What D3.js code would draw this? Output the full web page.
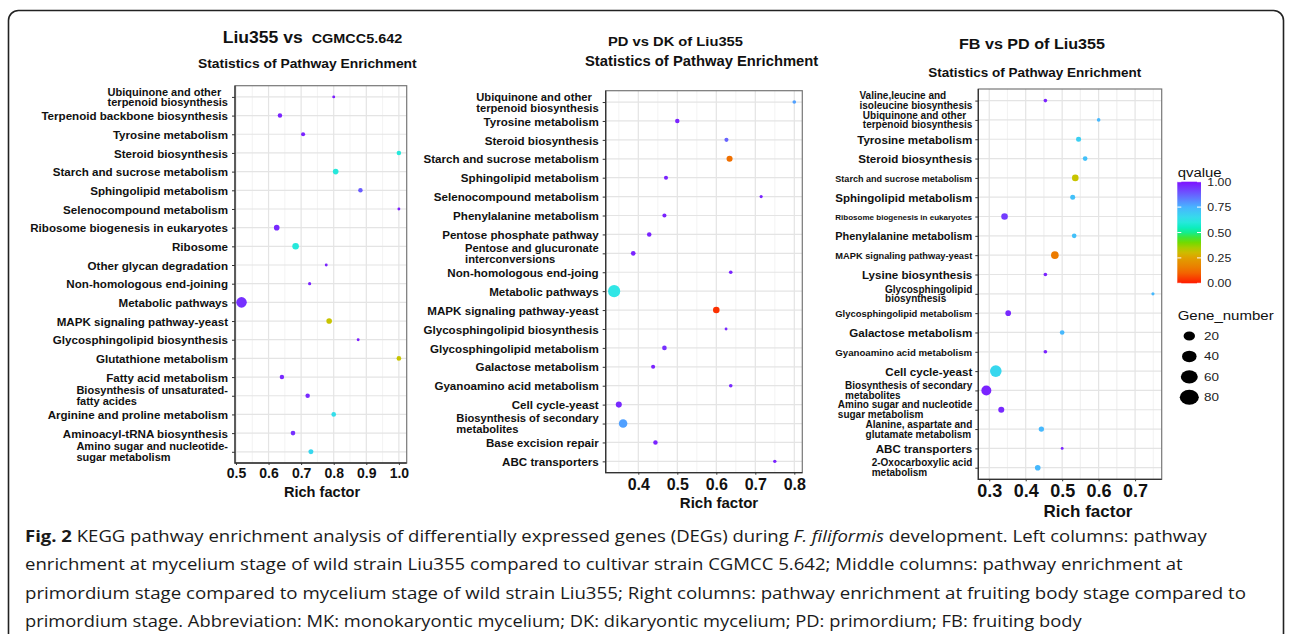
<!DOCTYPE html>
<html>
<head>
<meta charset="utf-8">
<script src="https://cdn.jsdelivr.net/npm/d3@7"></script>
<style>
  body { margin: 0; background: #fff; }
  svg { display: block; }
  .lab { font-family: "Liberation Sans", Arial, sans-serif; font-weight: bold; fill: #111; }
  .cap { font-family: "Open Sans", sans-serif; fill: #1a1a1a; }
</style>
</head>
<body>
<svg id="chart" width="1290" height="634"></svg>
<script>
// ---- data ----
var leftPathways = [
  "Ubiquinone and other\nterpenoid biosynthesis",
  "Terpenoid backbone biosynthesis",
  "Tyrosine metabolism",
  "Steroid biosynthesis",
  "Starch and sucrose metabolism",
  "Sphingolipid metabolism",
  "Selenocompound metabolism",
  "Ribosome biogenesis in eukaryotes",
  "Ribosome",
  "Other glycan degradation",
  "Non-homologous end-joining",
  "Metabolic pathways",
  "MAPK signaling pathway-yeast",
  "Glycosphingolipid biosynthesis",
  "Glutathione metabolism",
  "Fatty acid metabolism",
  "Biosynthesis of unsaturated-\nfatty acides",
  "Arginine and proline metabolism",
  "Aminoacyl-tRNA biosynthesis",
  "Amino sugar and nucleotide-\nsugar metabolism"
];
var leftRich  = [0.80, 0.635, 0.706, 1.0, 0.806, 0.882, 1.0, 0.625, 0.683, 0.777, 0.726, 0.517, 0.786, 0.875, 1.0, 0.641, 0.72, 0.80, 0.675, 0.73];
var leftQ     = [0.98, 0.97, 0.97, 0.60, 0.60, 0.88, 0.98, 0.96, 0.60, 0.97, 0.97, 0.95, 0.32, 0.98, 0.32, 0.96, 0.96, 0.64, 0.95, 0.66];
var leftGenes = [5, 12, 10, 12, 19, 12, 5, 19, 26, 5, 6, 67, 19, 5, 13, 12, 12, 13, 13, 15];
var leftTicks = [0.5, 0.6, 0.7, 0.8, 0.9, 1.0];

var midPathways = [
  "Ubiquinone and other\nterpenoid biosynthesis",
  "Tyrosine metabolism",
  "Steroid biosynthesis",
  "Starch and sucrose metabolism",
  "Sphingolipid metabolism",
  "Selenocompound metabolism",
  "Phenylalanine metabolism",
  "Pentose phosphate pathway",
  "Pentose and glucuronate\ninterconversions",
  "Non-homologous end-joing",
  "Metabolic pathways",
  "MAPK signaling pathway-yeast",
  "Glycosphingolipid biosynthesis",
  "Glycosphingolipid metabolism",
  "Galactose metabolism",
  "Gyanoamino acid metabolism",
  "Cell cycle-yeast",
  "Biosynthesis of secondary\nmetabolites",
  "Base excision repair",
  "ABC transporters"
];
var midRich  = [0.80, 0.50, 0.626, 0.634, 0.471, 0.715, 0.467, 0.428, 0.387, 0.637, 0.338, 0.60, 0.625, 0.467, 0.438, 0.637, 0.35, 0.361, 0.444, 0.75];
var midQ     = [0.78, 0.97, 0.87, 0.12, 0.97, 0.97, 0.97, 0.97, 0.97, 0.97, 0.62, 0.03, 0.96, 0.95, 0.97, 0.96, 0.96, 0.78, 0.97, 0.97];
var midGenes = [8, 12, 10, 22, 10, 6, 10, 12, 13, 8, 89, 26, 5, 13, 10, 8, 22, 44, 12, 7];
var midTicks = [0.4, 0.5, 0.6, 0.7, 0.8];

var rightPathways = [
  "Valine,leucine and\nisoleucine biosynthesis",
  "Ubiquinone and other\nterpenoid biosynthesis",
  "Tyrosine metabolism",
  "Steroid biosynthesis",
  "Starch and sucrose metabolism",
  "Sphingolipid metabolism",
  "Ribosome biogenesis in eukaryotes",
  "Phenylalanine metabolism",
  "MAPK signaling pathway-yeast",
  "Lysine biosynthesis",
  "Glycosphingolipid\nbiosynthesis",
  "Glycosphingolipid metabolism",
  "Galactose metabolism",
  "Gyanoamino acid metabolism",
  "Cell cycle-yeast",
  "Biosynthesis of secondary\nmetabolites",
  "Amino sugar and nucleotide\nsugar metabolism",
  "Alanine, aspartate and\nglutamate metabolism",
  "ABC transporters",
  "2-Oxocarboxylic acid\nmetabolism"
];
var rightRich  = [0.454, 0.60, 0.545, 0.563, 0.536, 0.529, 0.342, 0.533, 0.48, 0.454, 0.749, 0.352, 0.50, 0.454, 0.318, 0.292, 0.333, 0.443, 0.50, 0.433];
var rightQ     = [0.97, 0.74, 0.68, 0.72, 0.32, 0.72, 0.93, 0.72, 0.15, 0.97, 0.74, 0.96, 0.74, 0.97, 0.66, 0.97, 0.96, 0.74, 0.97, 0.74];
var rightGenes = [8, 8, 15, 13, 26, 15, 26, 13, 35, 8, 6, 19, 13, 8, 81, 60, 22, 17, 5, 19];
var rightTicks = [0.3, 0.4, 0.5, 0.6, 0.7];

var qTicks = [1.00, 0.75, 0.50, 0.25, 0.00];
var geneTicks = [20, 40, 60, 80];

var captionLines = [
  [["Fig. 2", "b"], [" KEGG pathway enrichment analysis of differentially expressed genes (DEGs) during ", ""], ["F. filiformis", "i"], [" development. Left columns: pathway", ""]],
  [["enrichment at mycelium stage of wild strain Liu355 compared to cultivar strain CGMCC 5.642; Middle columns: pathway enrichment at", ""]],
  [["primordium stage compared to mycelium stage of wild strain Liu355; Right columns: pathway enrichment at fruiting body stage compared to", ""]],
  [["primordium stage. Abbreviation: MK: monokaryontic mycelium; DK: dikaryontic mycelium; PD: primordium; FB: fruiting body", ""]]
];

// ---- shared scales ----
var qColor = d3.scaleLinear()
  .domain([0, 0.12, 0.25, 0.32, 0.42, 0.52, 0.62, 0.75, 0.88, 1])
  .range(["#ff1a00", "#f07000", "#e0a000", "#c8c400", "#5ee000", "#00f0b0", "#30e6e6", "#48b4ff", "#6a5cff", "#7f10ff"]);
var rScale = d3.scaleSqrt().domain([0, 100]).range([0, 6.45]);

var svg = d3.select("#chart");
svg.append("rect").attr("width", 1290).attr("height", 634).attr("fill", "#fff");

// outer figure frame
svg.append("rect")
  .attr("x", 8.5).attr("y", 10.5).attr("width", 1275).attr("height", 720)
  .attr("rx", 10).attr("fill", "none").attr("stroke", "#222").attr("stroke-width", 1.6);

function drawPanel(p) {
  var x = d3.scaleLinear().domain(p.domain).range([p.x0, p.x1]);
  var y = d3.scalePoint().domain(p.cats).range([p.y0, p.y1]).padding(0.6);
  var g = svg.append("g");

  // minor + major grid
  var step = p.ticks[1] - p.ticks[0];
  var minors = [];
  p.ticks.forEach(function(t) { minors.push(t - step / 2, t + step / 2); });
  minors = minors.filter(function(m, i) { return m > p.domain[0] && m < p.domain[1] && minors.indexOf(m) === i; });
  g.selectAll(".minor").data(minors).enter().append("line")
    .attr("x1", function(d) { return x(d); }).attr("x2", function(d) { return x(d); })
    .attr("y1", p.y0).attr("y2", p.y1)
    .attr("stroke", "#f0f0f0").attr("stroke-width", 0.8);
  g.selectAll(".vmaj").data(p.ticks).enter().append("line")
    .attr("x1", function(d) { return x(d); }).attr("x2", function(d) { return x(d); })
    .attr("y1", p.y0).attr("y2", p.y1)
    .attr("stroke", "#e4e4e4").attr("stroke-width", 1.2);
  g.selectAll(".hmaj").data(p.cats).enter().append("line")
    .attr("x1", p.x0).attr("x2", p.x1)
    .attr("y1", function(d) { return y(d); }).attr("y2", function(d) { return y(d); })
    .attr("stroke", "#e4e4e4").attr("stroke-width", 1.2);

  // border
  g.append("rect").attr("x", p.x0).attr("y", p.y0)
    .attr("width", p.x1 - p.x0).attr("height", p.y1 - p.y0)
    .attr("fill", "none").attr("stroke", "#777").attr("stroke-width", 1.2);
  g.append("path")
    .attr("d", "M" + p.x0 + "," + p.y0 + "V" + p.y1 + "H" + p.x1)
    .attr("fill", "none").attr("stroke", "#333").attr("stroke-width", 1.3);

  // points
  var rows = p.cats.map(function(c, i) { return { cat: c, rich: p.rich[i], q: p.q[i], n: p.genes[i] }; });
  g.selectAll(".dot").data(rows).enter().append("circle")
    .attr("cx", function(d) { return x(d.rich); })
    .attr("cy", function(d) { return y(d.cat); })
    .attr("r", function(d) { return rScale(d.n); })
    .attr("fill", function(d) { return qColor(d.q); });

  // y axis with multi-line labels
  var ya = g.append("g").attr("transform", "translate(" + p.x0 + ",0)")
    .call(d3.axisLeft(y).tickSize(3).tickPadding(4));
  ya.select(".domain").remove();
  ya.selectAll(".tick line").attr("stroke", "#333");
  ya.selectAll(".tick text").each(function(d) {
    var t = d3.select(this);
    var lines = d.split("\n");
    var fs0 = lines.length > 1 ? p.multiFs : p.labelFs;
    t.text(null).attr("class", "lab").attr("x", null).attr("dy", null)
      .attr("text-anchor", "start").style("font-size", fs0 + "px");
    var spans = lines.map(function(ln) { return t.append("tspan").text(ln); });
    var widths = spans.map(function(s) { return s.node().getComputedTextLength(); });
    var maxW = d3.max(widths);
    var fs = fs0;
    if (maxW > p.labelW) { fs = fs0 * p.labelW / maxW; maxW = p.labelW; }
    t.style("font-size", fs + "px");
    var left = -p.labelGap - maxW;
    var lh = fs * 0.97;
    spans.forEach(function(s, i) {
      var base = lines.length === 1 ? 0.36 * fs : (0.36 * fs - lh / 2 - 0.5 + i * lh);
      s.attr("x", left).attr("y", base);
    });
  });

  // x axis
  var xa = g.append("g").attr("transform", "translate(0," + p.y1 + ")")
    .call(d3.axisBottom(x).tickValues(p.ticks).tickFormat(d3.format(".1f")).tickSize(2).tickPadding(2));
  xa.select(".domain").remove();
  xa.selectAll(".tick line").attr("stroke", "#333");
  xa.selectAll(".tick text").attr("class", "lab").attr("dy", null)
    .attr("y", p.tickBase).style("font-size", p.tickFs + "px");

  g.append("text").attr("class", "lab")
    .attr("x", p.xlabX).attr("y", p.xlabY).attr("text-anchor", "middle")
    .style("font-size", p.xlabFs + "px").text("Rich factor");

  // titles
  p.titles.forEach(function(tt) {
    g.append("text").attr("class", "lab")
      .attr("x", tt.x).attr("y", tt.y)
      .attr("textLength", tt.w).attr("lengthAdjust", "spacingAndGlyphs")
      .style("font-size", tt.fs + "px").text(tt.text);
  });
}

drawPanel({
  cats: leftPathways, rich: leftRich, q: leftQ, genes: leftGenes, ticks: leftTicks,
  domain: [0.497, 1.024], x0: 235, x1: 406.7, y0: 85.7, y1: 463,
  labelFs: 11.6, multiFs: 11, labelW: 200, labelGap: 7, tickBase: 15.3, tickFs: 14,
  xlabX: 322, xlabY: 497, xlabFs: 14.6,
  titles: [
    { text: "Liu355 vs", x: 222.7, y: 43.3, w: 80, fs: 16.5 },
    { text: "CGMCC5.642", x: 311.7, y: 43, w: 90.6, fs: 12 },
    { text: "Statistics of Pathway Enrichment", x: 198, y: 68.3, w: 218.7, fs: 13.5 }
  ]
});
drawPanel({
  cats: midPathways, rich: midRich, q: midQ, genes: midGenes, ticks: midTicks,
  domain: [0.3164, 0.8205], x0: 605.7, x1: 802.3, y0: 90.7, y1: 472.7,
  labelFs: 11.6, multiFs: 11.2, labelW: 178, labelGap: 7, tickBase: 17.3, tickFs: 16,
  xlabX: 719, xlabY: 508, xlabFs: 15,
  titles: [
    { text: "PD vs DK of Liu355", x: 608, y: 45.5, w: 135, fs: 13.5 },
    { text: "Statistics of Pathway Enrichment", x: 585, y: 66, w: 233.3, fs: 14.5 }
  ]
});
drawPanel({
  cats: rightPathways, rich: rightRich, q: rightQ, genes: rightGenes, ticks: rightTicks,
  domain: [0.27, 0.773], x0: 978.3, x1: 1161.7, y0: 89, y1: 479.3,
  labelFs: 11.6, multiFs: 10, labelW: 137, labelGap: 6, tickBase: 17.4, tickFs: 18,
  xlabX: 1088, xlabY: 517, xlabFs: 17,
  titles: [
    { text: "FB vs PD of Liu355", x: 959, y: 49.3, w: 146, fs: 14 },
    { text: "Statistics of Pathway Enrichment", x: 928.3, y: 76.7, w: 213, fs: 13.5 }
  ]
});

// ---- legends ----
var leg = svg.append("g");
var barTop = 181.7, barBot = 283.3, barX = 1177.3, barW = 23.7;
var qy = d3.scaleLinear().domain([0, 1]).range([barBot, barTop]);
var grad = svg.append("defs").append("linearGradient").attr("id", "qgrad")
  .attr("x1", 0).attr("y1", 1).attr("x2", 0).attr("y2", 0);
grad.selectAll("stop").data(d3.range(0, 1.0001, 0.05)).enter().append("stop")
  .attr("offset", function(d) { return d; })
  .attr("stop-color", function(d) { return qColor(d); });
leg.append("text").attr("class", "lab").style("font-weight", "normal").style("font-size", "12px")
  .attr("x", 1177.7).attr("y", 177).attr("textLength", 44).attr("lengthAdjust", "spacingAndGlyphs")
  .text("qvalue");
leg.append("rect").attr("x", barX).attr("y", barTop).attr("width", barW).attr("height", barBot - barTop)
  .attr("fill", "url(#qgrad)");
leg.selectAll(".qt").data(qTicks).enter().append("path")
  .attr("d", function(d) {
    var yy = qy(d);
    return "M" + barX + "," + yy + "h4M" + (barX + barW - 4) + "," + yy + "h4";
  })
  .attr("stroke", "#fff").attr("stroke-width", 1);
leg.selectAll(".ql").data(qTicks).enter().append("text")
  .attr("class", "lab").style("font-size", "11px").style("font-weight", "normal").style("fill", "#222")
  .attr("x", 1207.3).attr("y", function(d) { return qy(d) + 4; })
  .attr("textLength", 24).attr("lengthAdjust", "spacingAndGlyphs")
  .text(function(d) { return d3.format(".2f")(d); });

leg.append("text").attr("class", "lab").style("font-weight", "normal").style("font-size", "12px")
  .attr("x", 1177.7).attr("y", 320).attr("textLength", 96).attr("lengthAdjust", "spacingAndGlyphs")
  .text("Gene_number");
var legR = d3.scaleSqrt().domain([20, 80]).range([4.5, 7.5]);
var gy = d3.scalePoint().domain(geneTicks).range([336, 397.3]);
leg.selectAll(".gd").data(geneTicks).enter().append("ellipse")
  .attr("cx", 1189.3).attr("cy", function(d) { return gy(d); })
  .attr("rx", function(d) { return legR(d) * 1.27; }).attr("ry", function(d) { return legR(d); })
  .attr("fill", "#000");
leg.selectAll(".gl").data(geneTicks).enter().append("text")
  .attr("class", "lab").style("font-size", "11px").style("font-weight", "normal").style("fill", "#222")
  .attr("x", 1204).attr("y", function(d) { return gy(d) + 4; })
  .attr("textLength", 15).attr("lengthAdjust", "spacingAndGlyphs")
  .text(function(d) { return d; });

// ---- caption ----
var capEnds = [1206.7, 1182.7, 1246, 1081.7];
var capBase = [541.7, 570.2, 598.7, 627.2];
var capFs = 16.5;
captionLines.forEach(function(parts, i) {
  var t = svg.append("text").attr("class", "cap").attr("x", 25).attr("y", capBase[i])
    .style("font-size", capFs + "px");
  parts.forEach(function(pt) {
    var s = t.append("tspan").text(pt[0]);
    if (pt[1] === "b") s.style("font-weight", "bold");
    if (pt[1] === "i") s.style("font-style", "italic");
  });
  t.attr("textLength", capEnds[i] - 25).attr("lengthAdjust", "spacingAndGlyphs");
});
</script>
</body>
</html>
